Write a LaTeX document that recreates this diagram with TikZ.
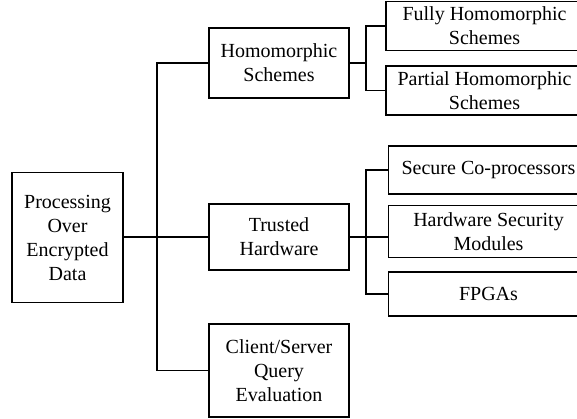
\documentclass[tikz,border=0pt]{standalone}
\usepackage{fontspec}
\setmainfont{Liberation Serif}
\begin{document}
\begin{tikzpicture}[x=1pt,y=-1pt,
  box/.style={draw=black, line width=1.3pt, inner sep=0pt, align=center,
              font=\fontsize{20}{24}\selectfont},
  link/.style={draw=black, line width=1.3pt}]
\useasboundingbox (0,0) rectangle (577,418);
\clip (0,0) rectangle (577,418);

% root
\node[box, minimum width=111pt, minimum height=130pt] (root) at (67.5,237.5)
  {Processing\\Over\\Encrypted\\Data};

% second level
\node[box, minimum width=140pt, minimum height=70pt] (homo) at (279,63)
  {Homomorphic\\Schemes};
\node[box, minimum width=140pt, minimum height=66pt] (trust) at (279,237)
  {Trusted\\Hardware};
\node[box, minimum width=140pt, minimum height=93pt] (client) at (279,370.5)
  {Client/Server\\Query\\Evaluation};

% homomorphic leaves
\node[box, minimum width=197pt, minimum height=49.5pt] (fully) at (484.5,26)
  {Fully Homomorphic\\Schemes};
\node[box, minimum width=197pt, minimum height=49pt] (partial) at (484.5,90.5)
  {Partial Homomorphic\\Schemes};

% hardware leaves
\node[box, minimum width=200pt, minimum height=48pt] (secure) at (488.5,170)
  {Secure Co-processors};
\node[box, minimum width=200pt, minimum height=52.5pt] (hsm) at (488.5,231.5)
  {Hardware Security\\Modules};
\node[box, minimum width=200pt, minimum height=44pt] (fpga) at (488.5,294)
  {FPGAs};

% junction points
\coordinate (trunk) at (157,237);
\coordinate (hj) at (366,63);
\coordinate (tj) at (366,237);

% root to second level
\draw[link] (root.east |- trunk) -- (trust.west |- trunk);
\draw[link] (homo.west) -| (trunk) |- (client.west);

% homomorphic branch
\draw[link] (homo.east) -- (hj);
\draw[link] (fully.west) -| (hj) |- (partial.west);

% hardware branch
\draw[link] (trust.east) -- (tj);
\draw[link] (secure.west) -| (tj) |- (fpga.west);
\draw[link] (tj) -- (hsm.west |- tj);
\end{tikzpicture}
\end{document}
